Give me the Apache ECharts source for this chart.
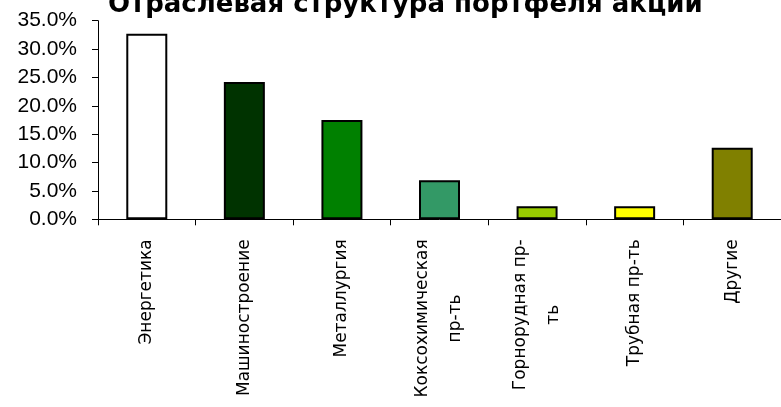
<!DOCTYPE html>
<html>
<head>
<meta charset="utf-8">
<script src="https://cdn.jsdelivr.net/npm/echarts@6/dist/echarts.min.js"></script>
<style>
html,body{margin:0;padding:0;background:#fff;}
#chart{width:781px;height:407px;}
</style>
</head>
<body>
<div id="chart"></div>
<script>
var titleText = 'Отраслевая структура портфеля акций';
var categories = ['Энергетика', 'Машиностроение', 'Металлургия', 'Коксохимическая\nпр-ть', 'Горнорудная пр-\nть', 'Трубная пр-ть', 'Другие'];
var values = [32.7, 24.2, 17.5, 6.9, 2.3, 2.3, 12.6];
var barColors = ['#FFFFFF', '#003300', '#008000', '#339966', '#99CC00', '#FFFF00', '#808000'];
var yMin = 0, yMax = 35, yStep = 5;

var chart = echarts.init(document.getElementById('chart'), null, {renderer: 'canvas'});
chart.setOption({
  animation: false,
  backgroundColor: '#ffffff',
  title: {
    text: titleText,
    left: 108,
    top: -8,
    padding: 0,
    textStyle: {fontFamily: 'DejaVu Sans', fontWeight: 'bold', fontSize: 26, color: '#000'}
  },
  grid: {left: 98, right: -5, top: 20.7, bottom: 187.7, containLabel: false},
  xAxis: {
    type: 'category',
    data: categories,
    boundaryGap: true,
    axisLine: {lineStyle: {color: '#000', width: 1}},
    axisTick: {show: true, inside: false, length: 6, alignWithLabel: false, lineStyle: {color: '#000'}},
    axisLabel: {
      interval: 0,
      rotate: 90,
      margin: 20,
      formatter: function (v) {
        return v.split('\n').map(function (s) { return '{c|' + s + '}'; }).join('\n');
      },
      rich: {c: {fontFamily: 'DejaVu Sans', fontSize: 17, color: '#000', align: 'center', lineHeight: 33}}
    },
    splitLine: {show: false}
  },
  yAxis: {
    type: 'value',
    min: yMin, max: yMax, interval: yStep,
    axisLine: {show: true, lineStyle: {color: '#000', width: 1}},
    axisTick: {show: true, length: 6, lineStyle: {color: '#000'}},
    axisLabel: {
      margin: 21,
      fontFamily: 'Liberation Sans', fontSize: 21, color: '#000',
      formatter: function (v) { return v.toFixed(1) + '%'; }
    },
    splitLine: {show: false}
  },
  series: [{
    type: 'bar',
    data: values.map(function (v, i) {
      return {value: v, itemStyle: {color: barColors[i]}};
    }),
    barWidth: 41,
    itemStyle: {borderColor: '#000', borderWidth: 2}
  }]
});
</script>
</body>
</html>
